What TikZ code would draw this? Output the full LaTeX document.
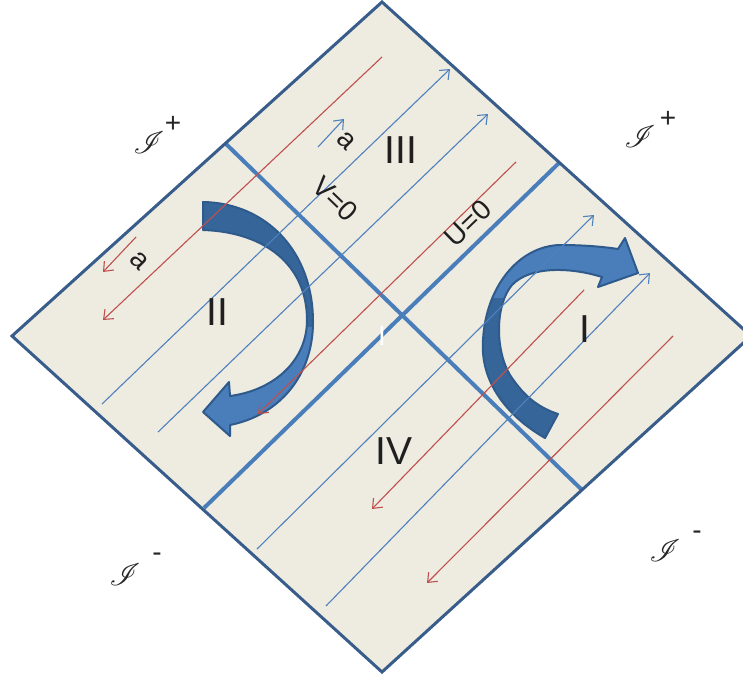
\documentclass[tikz,border=0pt]{standalone}
\usepackage{fontspec}
\setmainfont{Liberation Sans}
\usepackage{mathrsfs}
\usetikzlibrary{arrows.meta}
\definecolor{bgfill}{HTML}{EEEBE1}
\definecolor{edgecol}{HTML}{385D8A}
\definecolor{hblue}{HTML}{4A7EBB}
\definecolor{lblue}{HTML}{4F81BD}
\definecolor{lred}{HTML}{C0504D}
\definecolor{adark}{HTML}{366699}
\definecolor{alight}{HTML}{4A7EBB}
\definecolor{aedge}{HTML}{2E5A8C}
\begin{document}
\begin{tikzpicture}[x=1pt,y=-1pt,
  redarrow/.style={draw=lred, line width=1.1pt, -{Straight Barb[length=8pt,width=13pt]}},
  bluearrow/.style={draw=lblue, line width=1.1pt, -{Straight Barb[length=8pt,width=13pt]}},
  horizon/.style={draw=hblue, line width=4pt},
  regionlbl/.style={font=\fontsize{39}{39}\selectfont, text=black!88, inner sep=0pt},
  eqlabel/.style={font=\fontsize{28}{28}\selectfont, text=black!88, inner sep=0pt},
  scrilbl/.style={font=\fontsize{32}{32}\selectfont, text=black!85, inner sep=0pt, scale=1.25},
  signlbl/.style={font=\fontsize{28}{28}\selectfont, text=black!85, inner sep=0pt},
  arrowedge/.style={draw=aedge, line width=2pt, line join=round}]
\useasboundingbox (0,0) rectangle (743,679);

% diamond
\coordinate (T) at (382,2);
\coordinate (L) at (12,336);
\coordinate (B) at (382,672);
\coordinate (R) at (751,336);
\fill[bgfill] (T) -- (R) -- (B) -- (L) -- cycle;

% horizons
\coordinate (v1) at (225,143);
\coordinate (v2) at (582,490);
\coordinate (u1) at (560,162);
\coordinate (u2) at (204,508);
\draw[horizon] (v1) -- (v2);
\draw[horizon] (u1) -- (u2);

% curved arrow in region II
\begin{scope}
\fill[alight] (203,202) .. controls (265,203) and (313,250) .. (313,322) .. controls (313,375) and (280,415) .. (230,425) -- (230,436) -- (203,412) -- (229,382) -- (230,396) .. controls (275,390) and (307,360) .. (307,320) .. controls (307,265) and (265,232) .. (203,230) -- cycle;
\clip (0,0) rectangle (743,326);
\fill[adark] (203,202) .. controls (265,203) and (313,250) .. (313,322) .. controls (313,375) and (280,415) .. (230,425) -- (230,436) -- (203,412) -- (229,382) -- (230,396) .. controls (275,390) and (307,360) .. (307,320) .. controls (307,265) and (265,232) .. (203,230) -- cycle;
\end{scope}
\draw[arrowedge] (203,202) .. controls (265,203) and (313,250) .. (313,322) .. controls (313,375) and (280,415) .. (230,425) -- (230,436) -- (203,412) -- (229,382) -- (230,396) .. controls (275,390) and (307,360) .. (307,320) .. controls (307,265) and (265,232) .. (203,230) -- cycle;

% curved arrow in region I
\begin{scope}
\fill[alight] (558,414) -- (545,438) .. controls (505,415) and (480,380) .. (483,340) .. controls (486,285) and (520,246) .. (560,245) .. controls (585,245) and (605,247) .. (618,249) -- (625,238) -- (638,273) -- (598,287) -- (602,277) .. controls (570,267) and (530,266) .. (512,285) .. controls (495,305) and (495,350) .. (510,375) .. controls (525,398) and (540,408) .. (558,414) -- cycle;
\clip (0,298) rectangle (743,679);
\fill[adark] (558,414) -- (545,438) .. controls (505,415) and (480,380) .. (483,340) .. controls (486,285) and (520,246) .. (560,245) .. controls (585,245) and (605,247) .. (618,249) -- (625,238) -- (638,273) -- (598,287) -- (602,277) .. controls (570,267) and (530,266) .. (512,285) .. controls (495,305) and (495,350) .. (510,375) .. controls (525,398) and (540,408) .. (558,414) -- cycle;
\end{scope}
\draw[arrowedge] (558,414) -- (545,438) .. controls (505,415) and (480,380) .. (483,340) .. controls (486,285) and (520,246) .. (560,245) .. controls (585,245) and (605,247) .. (618,249) -- (625,238) -- (638,273) -- (598,287) -- (602,277) .. controls (570,267) and (530,266) .. (512,285) .. controls (495,305) and (495,350) .. (510,375) .. controls (525,398) and (540,408) .. (558,414) -- cycle;

% thin red rays (pointing down-left)
\coordinate (r1a) at (382,57);  \coordinate (r1b) at (103,320);
\coordinate (r2a) at (136,237); \coordinate (r2b) at (103,272);
\coordinate (r3a) at (516,162); \coordinate (r3b) at (258,414);
\coordinate (r4a) at (584,290); \coordinate (r4b) at (372,509);
\coordinate (r5a) at (673,336); \coordinate (r5b) at (427,583);
\draw[redarrow] (r1a) -- (r1b);
\draw[redarrow] (r2a) -- (r2b);
\draw[redarrow] (r3a) -- (r3b);
\draw[redarrow] (r4a) -- (r4b);
\draw[redarrow] (r5a) -- (r5b);

% thin blue rays (pointing up-right)
\coordinate (b1a) at (318,147); \coordinate (b1b) at (344,119);
\coordinate (b2a) at (102,404); \coordinate (b2b) at (450,69);
\coordinate (b3a) at (158,432); \coordinate (b3b) at (488,114);
\coordinate (b4a) at (257,549); \coordinate (b4b) at (594,215);
\coordinate (b5a) at (326,606); \coordinate (b5b) at (650,273);
\draw[bluearrow] (b1a) -- (b1b);
\draw[bluearrow] (b2a) -- (b2b);
\draw[bluearrow] (b3a) -- (b3b);
\draw[bluearrow] (b4a) -- (b4b);
\draw[bluearrow] (b5a) -- (b5b);

% border
\draw[edgecol, line width=3pt, line join=miter] (T) -- (R) -- (B) -- (L) -- cycle;

% region labels
\node[regionlbl] (regI) at (585,329) {I};
\node[regionlbl] (regII) at (217,312) {II};
\node[regionlbl] (regIII) at (401,150) {III};
\node[regionlbl] (regIV) at (394,451) {IV};
\node[regionlbl, text=white, font=\fontsize{28}{28}\selectfont] (regO) at (382,336) {I};

% horizon labels
\node[eqlabel, rotate=-44] (lblV) at (335,199) {V=0};
\node[eqlabel, rotate=44] (lblU) at (468,223) {U=0};
\node[eqlabel, rotate=-45] (lblaR) at (139,261) {a};
\node[eqlabel, rotate=-45] (lblaB) at (346,141) {a};

% scri labels
\node[scrilbl] (s1) at (149,143) {$\mathscr{I}$};
\node[signlbl] (s1s) at (173,124) {+};
\node[scrilbl] (s2) at (640,137) {$\mathscr{I}$};
\node[signlbl] (s2s) at (668,119) {+};
\node[scrilbl] (s3) at (125,575) {$\mathscr{I}$};
\node[signlbl] (s3s) at (157,557) {-};
\node[scrilbl] (s4) at (665,551) {$\mathscr{I}$};
\node[signlbl] (s4s) at (697,535) {-};
\end{tikzpicture}
\end{document}
